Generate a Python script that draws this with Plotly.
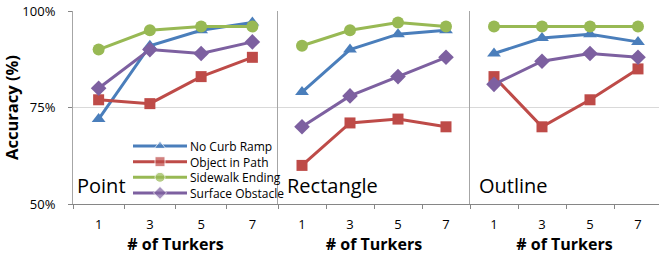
import plotly.graph_objects as go

turkers = ["1", "3", "5", "7"]
series_names = ["No Curb Ramp", "Object in Path", "Sidewalk Ending", "Surface Obstacle"]
panel_titles = ["Point", "Rectangle", "Outline"]

point_vals = {
    "No Curb Ramp": [72, 91, 95, 97],
    "Object in Path": [77, 76, 83, 88],
    "Sidewalk Ending": [90, 95, 96, 96],
    "Surface Obstacle": [80, 90, 89, 92],
}
rect_vals = {
    "No Curb Ramp": [79, 90, 94, 95],
    "Object in Path": [60, 71, 72, 70],
    "Sidewalk Ending": [91, 95, 97, 96],
    "Surface Obstacle": [70, 78, 83, 88],
}
outline_vals = {
    "No Curb Ramp": [89, 93, 94, 92],
    "Object in Path": [83, 70, 77, 85],
    "Sidewalk Ending": [96, 96, 96, 96],
    "Surface Obstacle": [81, 87, 89, 88],
}
y_ticks = [50, 75, 100]
y_tick_text = ["50%", "75%", "100%"]

colors = {
    "No Curb Ramp": "#4A7EBB",
    "Object in Path": "#BE4B48",
    "Sidewalk Ending": "#98B954",
    "Surface Obstacle": "#7D60A0",
}
symbols = {
    "No Curb Ramp": "triangle-up",
    "Object in Path": "square",
    "Sidewalk Ending": "circle",
    "Surface Obstacle": "diamond",
}
msize = {"No Curb Ramp": 12, "Object in Path": 11, "Sidewalk Ending": 12, "Surface Obstacle": 12}

W, H = 659, 262
ml, mt = 73, 11
plot_bottom = 204
mr, mb = 0, H - plot_bottom
pw = W - ml - mr
ph = H - mt - mb
edges = [(73, 278), (278, 470), (470, 659)]
cat_w = [205 / 4, 192 / 4, 192 / 4]

FONT = "Open Sans"
NARROW = "Liberation Sans Narrow, Arial Narrow, Open Sans"

fig = go.Figure()
panels = [point_vals, rect_vals, outline_vals]
for i, vals in enumerate(panels):
    xa = "x" if i == 0 else f"x{i+1}"
    ya = "y" if i == 0 else f"y{i+1}"
    for name in series_names:
        fig.add_trace(go.Scatter(
            x=turkers, y=vals[name], name=name, mode="lines+markers",
            line=dict(color=colors[name], width=3),
            marker=dict(symbol=symbols[name], size=msize[name], color=colors[name]),
            xaxis=xa, yaxis=ya, showlegend=False, cliponaxis=False,
        ))

# hand-built compact legend, drawn on an invisible overlay axis measured in pixels
leg_font = 12
leg_gap = 1.3 * leg_font
leg_center = 169.5
leg_x0, leg_x1, leg_text_x = 133, 187, 188
leg_rows = [leg_center + (k - 1.5) * leg_gap for k in range(len(series_names))]
for name, ry in zip(series_names, leg_rows):
    fig.add_trace(go.Scatter(
        x=[leg_x0, (leg_x0 + leg_x1) / 2, leg_x1], y=[ry, ry, ry],
        mode="lines+markers", line=dict(color=colors[name], width=3),
        marker=dict(symbol=symbols[name], size=[0, 10, 0], color=colors[name]),
        xaxis="x4", yaxis="y4", showlegend=False, hoverinfo="skip", cliponaxis=False,
    ))
anns = [dict(text="<br>".join(series_names), x=leg_text_x, y=leg_center, xref="x4", yref="y4",
             xanchor="left", yanchor="middle", align="left", showarrow=False,
             font=dict(size=leg_font, family=NARROW))]

layout = dict(
    width=W, height=H, margin=dict(l=ml, r=mr, t=mt, b=mb, autoexpand=False),
    paper_bgcolor="white", plot_bgcolor="rgba(0,0,0,0)",
    font=dict(family=FONT, color="#000000"),
    showlegend=False,
    xaxis4=dict(range=[edges[0][0], edges[0][1]], visible=False, anchor="y4",
                overlaying="x", fixedrange=True),
    yaxis4=dict(range=[plot_bottom, mt], visible=False, anchor="x4",
                overlaying="y", fixedrange=True),
)
for i in range(3):
    x0, x1 = edges[i]
    n = (x1 - x0) / cat_w[i]
    key = "xaxis" if i == 0 else f"xaxis{i+1}"
    ykey = "yaxis" if i == 0 else f"yaxis{i+1}"
    layout[key] = dict(
        domain=[(x0 - ml) / pw, (x1 - ml) / pw], anchor="y" if i == 0 else f"y{i+1}",
        type="category", range=[-0.5, -0.5 + n], tickson="boundaries",
        ticks="outside", ticklen=4, tickcolor="#868686", ticklabelstandoff=8,
        showline=True, linecolor="#868686", linewidth=1, showgrid=False,
        tickfont=dict(size=13, family=FONT), fixedrange=True, automargin=False,
        title=dict(text="<b># of Turkers</b>", font=dict(size=16, family=FONT), standoff=4),
    )
    layout[ykey] = dict(
        anchor="x" if i == 0 else f"x{i+1}",
        range=[50, 100], tickvals=y_ticks, ticktext=y_tick_text,
        showticklabels=(i == 0), ticks="outside" if i == 0 else "", ticklen=4,
        ticklabelstandoff=10, automargin=False,
        tickcolor="#868686", showline=True, linecolor="#A6A6A6", linewidth=1,
        showgrid=True, gridcolor="#D9D9D9", gridwidth=1, zeroline=False,
        tickfont=dict(size=13, family=FONT), fixedrange=True,
        title=dict(text="<b>Accuracy (%)</b>", font=dict(size=16.5, family=FONT), standoff=4) if i == 0 else None,
    )
fig.update_layout(**layout)

title_x = [75, 285, 477]
for i, t in enumerate(panel_titles):
    anns.append(dict(text=t, x=(title_x[i] - ml) / pw, y=(plot_bottom - 201) / ph,
                     xref="paper", yref="paper", xanchor="left", yanchor="bottom",
                     showarrow=False, font=dict(size=20, family=FONT)))
fig.update_layout(annotations=anns)
fig.write_html("out.html", config={"displayModeBar": False},
               post_script="document.body.style.margin='0';")
